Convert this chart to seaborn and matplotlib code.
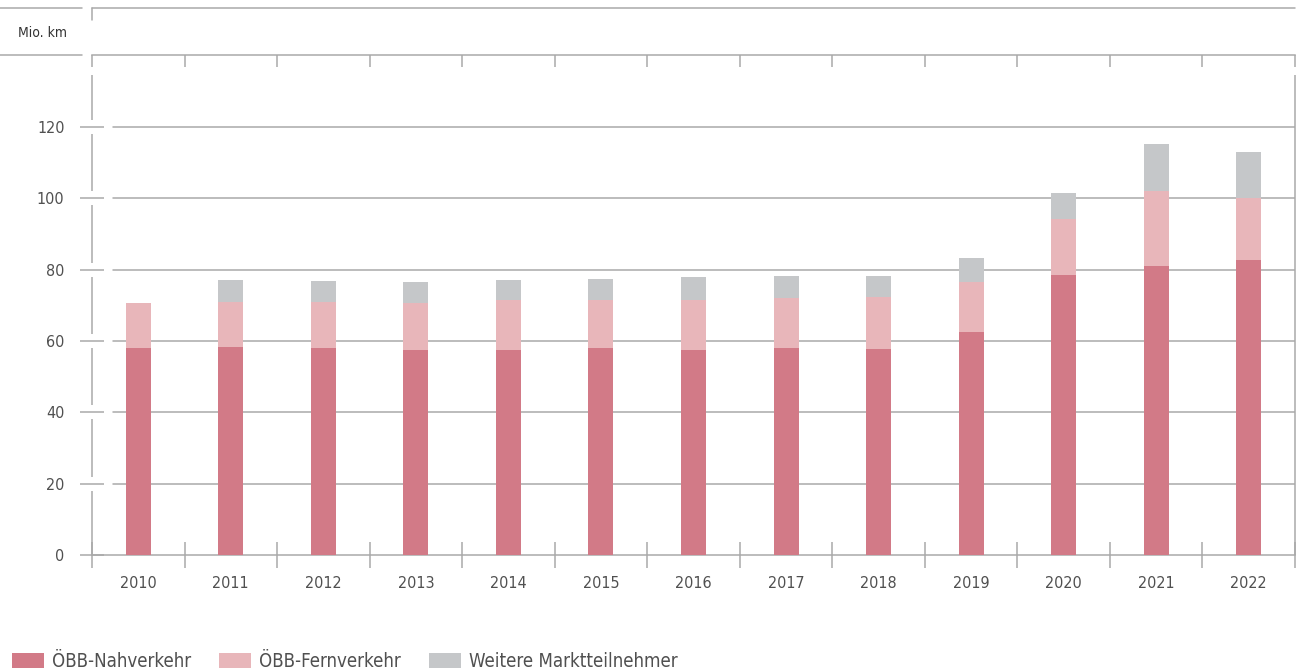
import matplotlib
matplotlib.use("Agg")
import matplotlib.pyplot as plt
import matplotlib.transforms as mtransforms
from matplotlib.lines import Line2D
from matplotlib.patches import Patch
import numpy as np
import pandas as pd
import seaborn as sns

# ---- data ----
years = ["2010", "2011", "2012", "2013", "2014", "2015", "2016",
         "2017", "2018", "2019", "2020", "2021", "2022"]
nahverkehr = [58.0, 58.3, 58.0, 57.6, 57.6, 57.9, 57.6, 57.9, 57.8, 62.6, 78.5, 81.0, 82.7]
fernverkehr = [12.7, 12.6, 12.9, 13.1, 14.0, 13.6, 13.9, 14.2, 14.5, 14.0, 15.7, 21.0, 17.3]
weitere = [0.0, 6.2, 6.0, 5.9, 5.5, 5.9, 6.4, 6.1, 5.9, 6.6, 7.4, 13.2, 12.9]
series_labels = ["ÖBB-Nahverkehr", "ÖBB-Fernverkehr", "Weitere Marktteilnehmer"]
y_ticks = [0, 20, 40, 60, 80, 100, 120]
unit_label = "Mio. km"

# ---- style ----
sns.set_theme(style="white")
plt.rcParams["font.family"] = ["DejaVu Sans"]
plt.rcParams["font.stretch"] = "condensed"
c_nah = "#d27a87"
c_fern = "#e8b6ba"
c_weit = "#c5c7c9"
line_c = "#a9a9a9"
text_c = "#505050"
lw = 1.1

W, H = 1300, 671
fig = plt.figure(figsize=(13, 6.71), dpi=100)
ax = fig.add_axes([92 / W, 1 - 555 / H, 1203 / W, 500 / H])

df = pd.DataFrame({"year": years,
                   "nah": nahverkehr, "fern": fernverkehr, "weit": weitere})
df["cum_fern"] = df["nah"] + df["fern"]
df["cum_weit"] = df["cum_fern"] + df["weit"]

bw = 0.27
sns.barplot(data=df, x="year", y="cum_weit", order=years, color=c_weit,
            saturation=1, width=bw, errorbar=None, ax=ax, zorder=3)
sns.barplot(data=df, x="year", y="cum_fern", order=years, color=c_fern,
            saturation=1, width=bw, errorbar=None, ax=ax, zorder=3)
sns.barplot(data=df, x="year", y="nah", order=years, color=c_nah,
            saturation=1, width=bw, errorbar=None, ax=ax, zorder=3)
for p in ax.patches:
    p.set_linewidth(0)

n = len(years)
top = 500 / 3.567
ax.set_xlim(-0.5, n - 0.5)
ax.set_ylim(0, top)
ax.set_xlabel("")
ax.set_ylabel("")

for s in ["left", "right"]:
    ax.spines[s].set_visible(False)
for s in ["top", "bottom"]:
    ax.spines[s].set_color(line_c)
    ax.spines[s].set_linewidth(lw)

for v in y_ticks[1:]:
    ax.axhline(v, xmin=21 / 1203, xmax=1, color=line_c, lw=lw, zorder=1)

gap = 7 / 3.567
starts = [0] + [v + gap for v in y_ticks[1:]]
ends = [v - gap for v in y_ticks[1:]] + [top - 20 / 3.567]
ax.vlines([-0.5] * len(starts), starts, ends, color=line_c, lw=lw,
          clip_on=False, zorder=2)
ax.vlines([n - 0.5], 0, top - 20 / 3.567, color=line_c, lw=lw,
          clip_on=False, zorder=2)
bounds = np.arange(-0.5, n, 1.0)
trans = mtransforms.blended_transform_factory(ax.transData, ax.transAxes)
ax.vlines(bounds, 1 - 12 / 500, 1, transform=trans, color=line_c, lw=lw,
          clip_on=False)

ax.set_yticks(y_ticks)
ax.set_yticklabels([str(v) for v in y_ticks])
ax.tick_params(axis="y", which="major", left=True, direction="inout",
               length=16.6, width=lw, color=line_c, pad=11.5,
               labelsize=11.5, labelcolor=text_c)
ax.set_xticks(range(n))
ax.set_xticklabels(years)
ax.set_xticks(bounds, minor=True)
ax.tick_params(axis="x", which="major", bottom=True, length=0, pad=15,
               labelsize=11.5, labelcolor=text_c)
ax.tick_params(axis="x", which="minor", bottom=True, direction="inout",
               length=19.4, width=lw, color=line_c)

def fline(x0, x1, y0, y1):
    fig.add_artist(Line2D([x0 / W, x1 / W], [1 - y0 / H, 1 - y1 / H],
                          color=line_c, lw=lw))

fline(0, 82, 8, 8)
fline(92, 1295, 8, 8)
fline(0, 82, 55, 55)
fline(92, 92, 8, 20)
fig.text(18 / W, 1 - 33 / H, unit_label, fontsize=10, color="#333333",
         va="center", ha="left")

handles = [Patch(facecolor=c, edgecolor="none") for c in (c_nah, c_fern, c_weit)]
fs = 13.4
px = fs * 100 / 72
fig.legend(handles, series_labels, loc="lower left",
           bbox_to_anchor=(12 / W, 0 / H), ncol=3, frameon=False,
           fontsize=fs, labelcolor=text_c, borderpad=0, borderaxespad=0,
           handlelength=32 / px, handleheight=16 / px,
           handletextpad=8 / px, columnspacing=28 / px)

fig.savefig("out.png", dpi=100)
